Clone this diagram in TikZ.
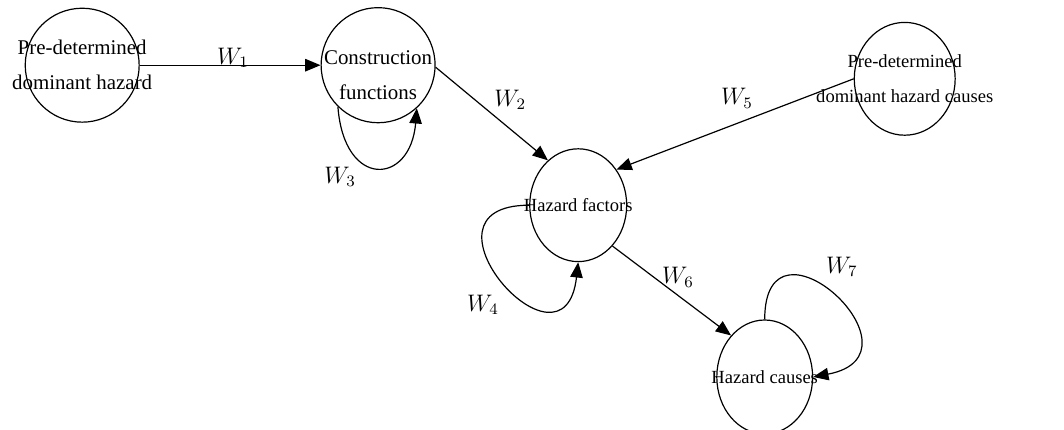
\documentclass[tikz,border=0pt]{standalone}
\usepackage{fontspec}
\setmainfont{Liberation Serif}
\usetikzlibrary{arrows.meta, shapes.geometric}

\begin{document}
\begin{tikzpicture}[
  >={Triangle[length=2.7mm, width=2.2mm]},
  blob/.style 2 args={
    draw, ellipse, line width=0.6pt, inner sep=0pt,
    minimum width=#1, minimum height=#2
  },
  big/.style={font=\fontsize{10.5}{17.5}\selectfont, align=center},
  small/.style={font=\fontsize{9.3}{17.5}\selectfont, align=center},
  wlab/.style={font=\fontsize{11.5}{13}\selectfont, inner sep=1pt},
  arr/.style={->, line width=0.6pt, black},
]

% Canvas
\useasboundingbox (0,0) rectangle (18.77,-7.585);

% ===== States =====
\node[blob={2.01cm}{2.01cm},
      label={[big]center:Pre-determined\\dominant hazard}]
  (pdh) at (1.45,-1.15) {};

\node[blob={2.01cm}{2.03cm},
      label={[big, yshift=-0.18cm]center:Construction\\functions}]
  (cons) at (6.67,-1.15) {};

\node[blob={1.78cm}{1.99cm},
      label={[small]center:Pre-determined\\dominant hazard causes}]
  (pdhc) at (15.96,-1.39) {};

\node[blob={1.71cm}{1.99cm},
      label={[small]center:Hazard factors}]
  (hf) at (10.20,-3.62) {};

\node[blob={1.69cm}{2.01cm},
      label={[small]center:Hazard causes}]
  (hc) at (13.49,-6.65) {};

% ===== Arrows =====
\draw[arr] (pdh) -- (cons);
\draw[arr] (cons.-2) -- (hf.124);
\draw[arr] (pdhc.180) -- (hf.43);
\draw[arr] (hf.-50) -- (hc.129);

% self loops
\draw[arr] (cons.-134) .. controls +(0.11,-1.46) and +(-0.11,-1.36) .. (cons.-48);
\draw[arr] (hf.180) .. controls +(-2.2,0) and +(-0.25,-2.2) .. (hf.-90);
\draw[arr] (hc.90) .. controls +(0,2.1) and +(2.1,0.4) .. (hc.0);

% ===== Weights =====
\node[wlab] (w1) at (4.11,-1.02) {$W_1$};
\node[wlab] (w2) at (9.00,-1.76) {$W_2$};
\node[wlab] (w3) at (6.00,-3.12) {$W_3$};
\node[wlab] (w4) at (8.52,-5.38) {$W_4$};
\node[wlab] (w5) at (13.00,-1.73) {$W_5$};
\node[wlab] (w6) at (11.96,-4.89) {$W_6$};
\node[wlab] (w7) at (14.85,-4.71) {$W_7$};

\end{tikzpicture}
\end{document}
